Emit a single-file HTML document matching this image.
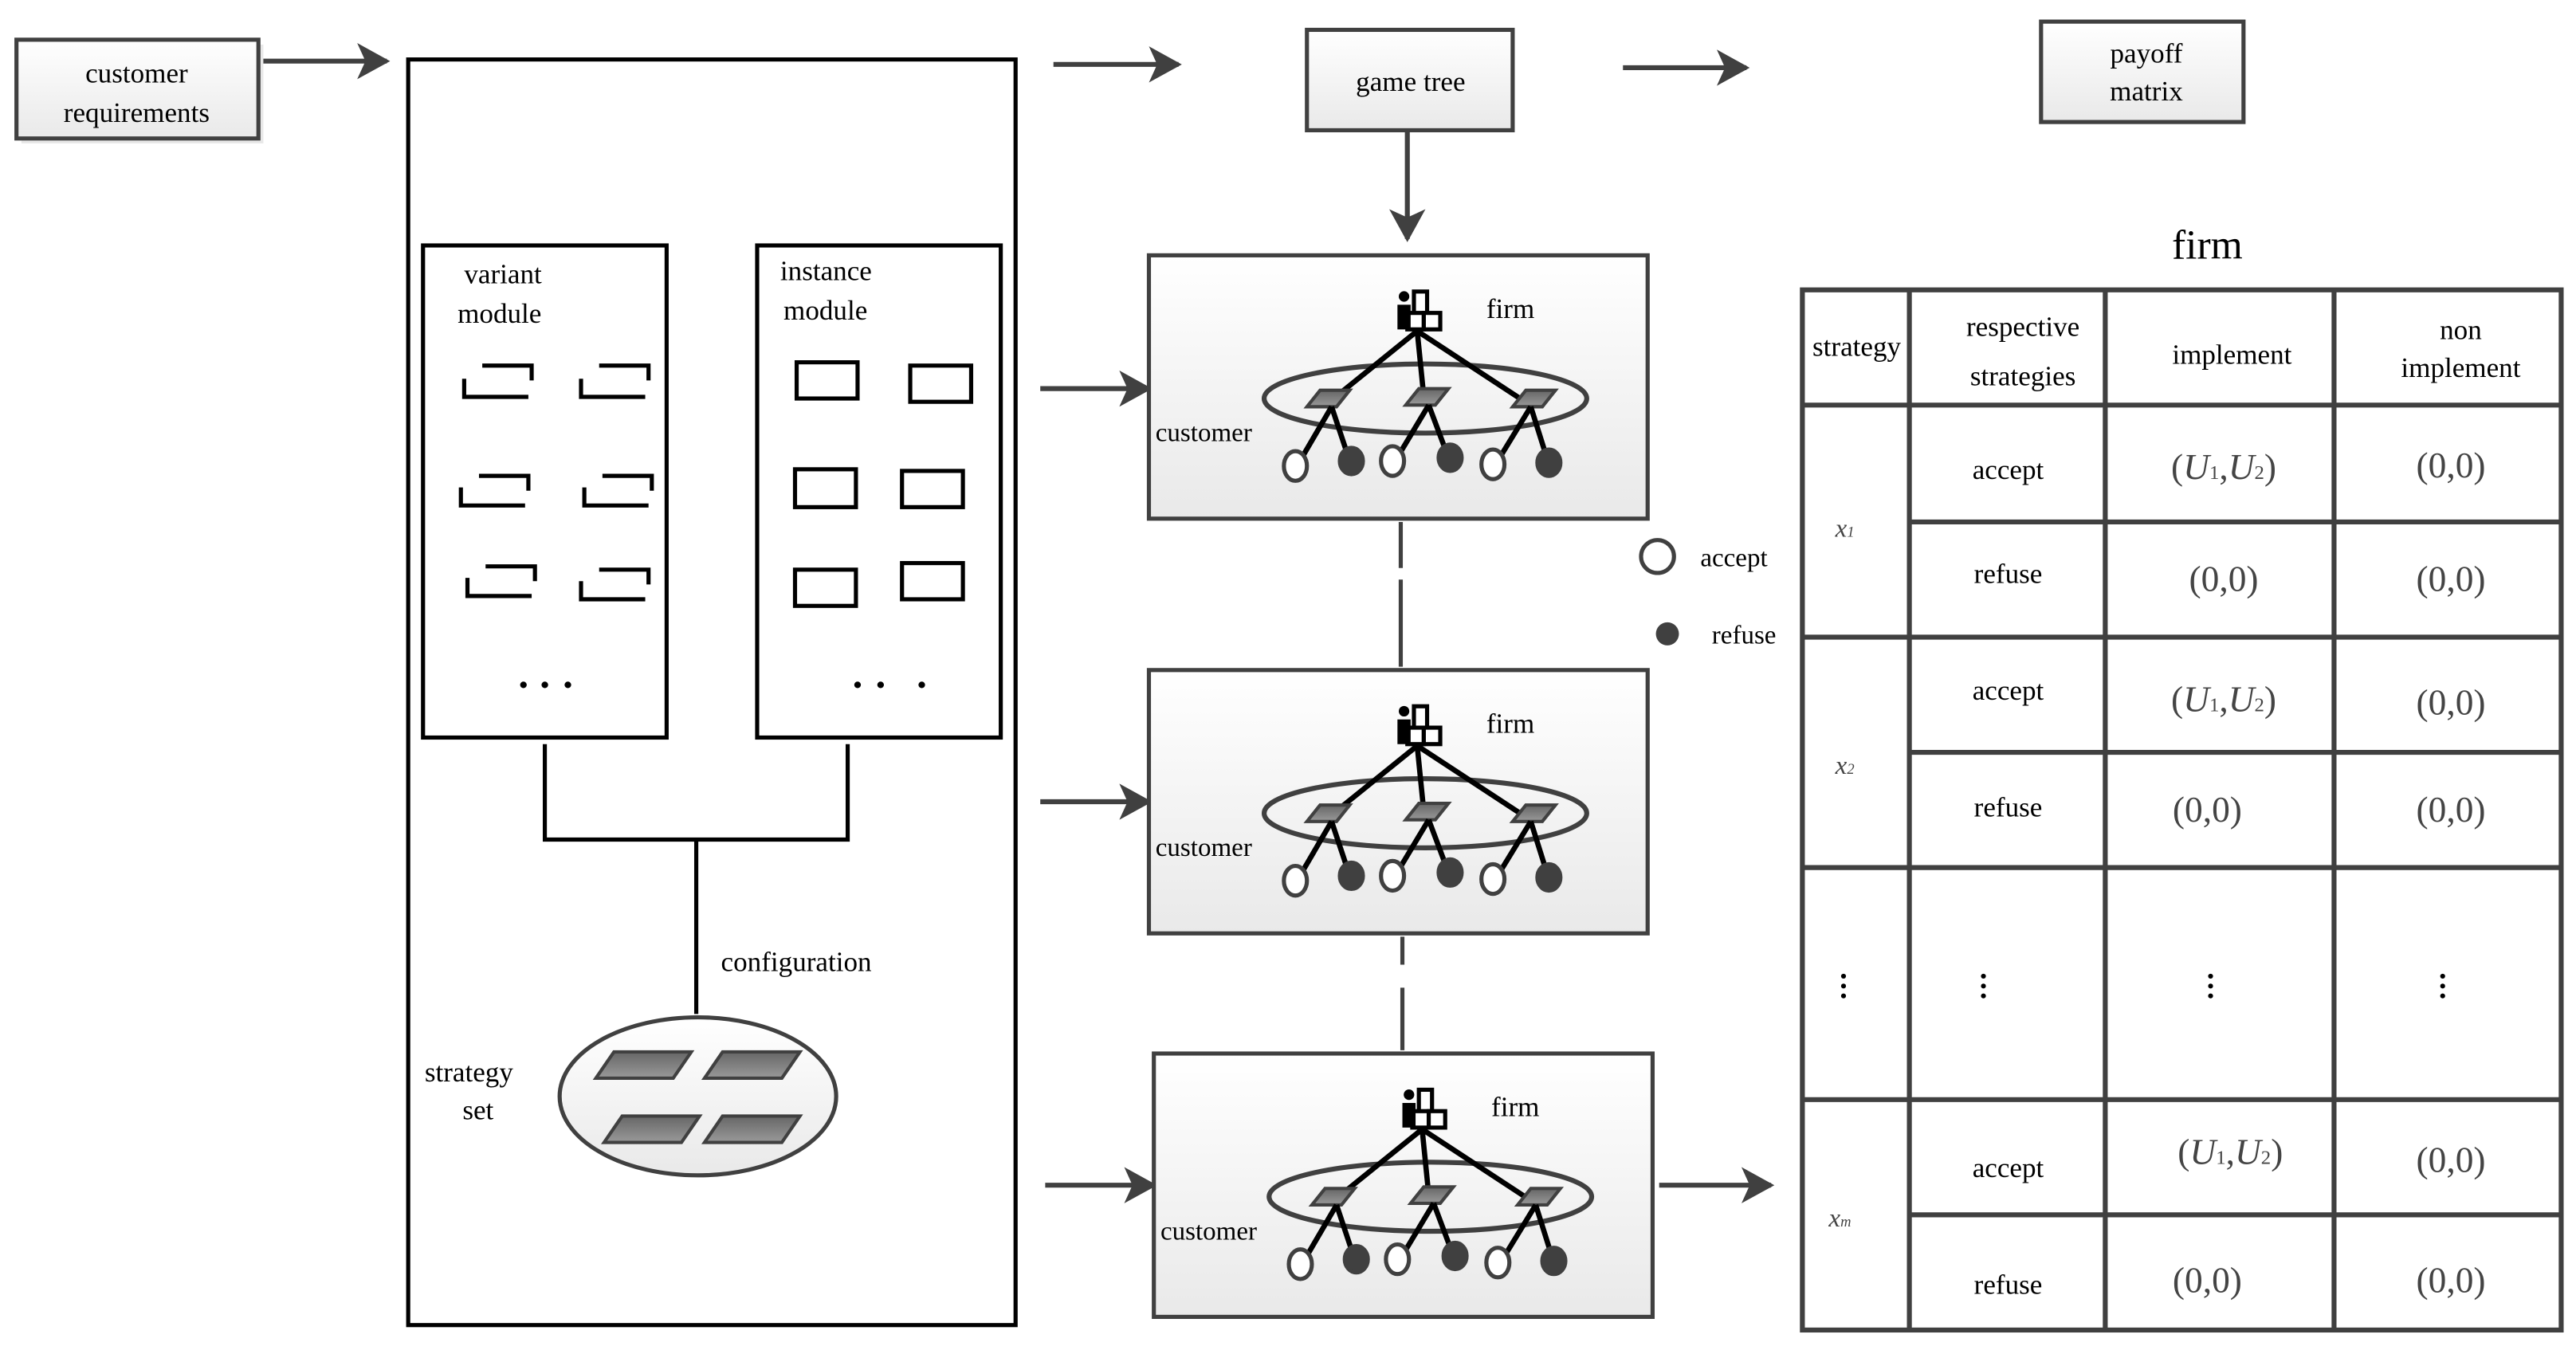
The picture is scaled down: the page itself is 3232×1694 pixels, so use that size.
<!DOCTYPE html>
<html><head><meta charset="utf-8"><style>
html,body{margin:0;padding:0;background:#fff;}
svg{display:block;}
text{font-family:"Liberation Serif",serif;fill:#000;}
</style></head><body>
<svg width="3232" height="1694" viewBox="0 0 1565 820" xmlns="http://www.w3.org/2000/svg" font-family="Liberation Serif, serif">
<defs>
<linearGradient id="gb" x1="0" y1="0" x2="0" y2="1"><stop offset="0" stop-color="#fff"/><stop offset="1" stop-color="#e9e9e9"/></linearGradient>
<linearGradient id="gp" x1="0" y1="0" x2="0" y2="1"><stop offset="0" stop-color="#666"/><stop offset="1" stop-color="#999"/></linearGradient>
<marker id="ah" markerWidth="20" markerHeight="22" refX="18" refY="11" orient="auto" markerUnits="userSpaceOnUse"><path d="M0,0 L20,11 L0,22 L5,11 Z" fill="#404040"/></marker>
<g id="tree">
 <g stroke="#000" stroke-width="2.5" fill="#fff">
  <rect x="161" y="22" width="8" height="14"/>
  <rect x="157" y="35" width="10" height="10"/>
  <rect x="167" y="35" width="10" height="10"/>
 </g>
 <circle cx="155" cy="25" r="3.2" fill="#000"/>
 <path d="M151,30 h8 v15 h-8 z" fill="#000"/>
 <text x="205" y="38" font-size="17">firm</text>
 <ellipse cx="168" cy="87" rx="98" ry="21" fill="none" stroke="#404040" stroke-width="3"/>
 <path d="M163,46 L111,88 M163,46 L167,86 M163,46 L227,88" stroke="#000" stroke-width="3.2"/>
 <g fill="url(#gp)" stroke="#404040" stroke-width="2">
  <path d="M104,82 h18 l-8,10 h-18 z"/><path d="M164,81 h18 l-8,10 h-18 z"/><path d="M229,82 h18 l-8,10 h-18 z"/>
 </g>
 <path d="M111,92 L90,128 M111,92 L122,125 M170,91 L149,126 M170,91 L182,123 M232,92 L210,128 M232,92 L243,127" stroke="#000" stroke-width="3.2"/>
 <g stroke="#404040" stroke-width="2.5">
  <ellipse cx="89" cy="128" rx="7" ry="9" fill="#fff"/><ellipse cx="123" cy="125" rx="7" ry="8" fill="#404040"/>
  <ellipse cx="148" cy="125" rx="7" ry="9" fill="#fff"/><ellipse cx="183" cy="123" rx="7" ry="8" fill="#404040"/>
  <ellipse cx="209" cy="127" rx="7" ry="9" fill="#fff"/><ellipse cx="243" cy="126" rx="7" ry="8" fill="#404040"/>
 </g>
 <text x="4" y="113" font-size="16">customer</text>
</g>
</defs>

<rect x="13" y="27" width="147" height="60" fill="#e8e8e8"/>
<rect x="10" y="24" width="147" height="60" fill="url(#gb)" stroke="#404040" stroke-width="2.5"/>
<text x="83" y="50" font-size="17" text-anchor="middle">customer</text>
<text x="83" y="74" font-size="17" text-anchor="middle">requirements</text>

<g stroke="#404040" stroke-width="3" marker-end="url(#ah)">
 <line x1="160" y1="37" x2="235" y2="37"/>
 <line x1="640" y1="39" x2="716" y2="39"/>
 <line x1="986" y1="41" x2="1061" y2="41"/>
 <line x1="632" y1="236" x2="698" y2="236"/>
 <line x1="632" y1="487" x2="698" y2="487"/>
 <line x1="635" y1="720" x2="701" y2="720"/>
 <line x1="1008" y1="720" x2="1076" y2="720"/>
 <line x1="855" y1="80" x2="855" y2="145"/>
</g>

<rect x="248" y="36" width="369" height="769" fill="none" stroke="#000" stroke-width="2.5"/>
<rect x="257" y="149" width="148" height="299" fill="none" stroke="#000" stroke-width="2.5"/>
<rect x="460" y="149" width="148" height="299" fill="none" stroke="#000" stroke-width="2.5"/>
<text x="282" y="172" font-size="17">variant</text>
<text x="278" y="196" font-size="17">module</text>
<text x="474" y="170" font-size="17">instance</text>
<text x="476" y="194" font-size="17">module</text>
<g fill="none" stroke="#000" stroke-width="2.5">
 <path d="M282,230 v11 h39 M293,222 h30 v9"/>
 <path d="M353,230 v11 h39 M364,222 h30 v9"/>
 <path d="M280,296 v11 h39 M291,289 h30 v9"/>
 <path d="M355,296 v11 h39 M366,289 h30 v9"/>
 <path d="M284,351 v11 h39 M295,344 h30 v9"/>
 <path d="M353,353 v11 h39 M364,346 h30 v9"/>
 <rect x="484" y="220" width="37" height="22"/><rect x="553" y="222" width="37" height="22"/>
 <rect x="483" y="285" width="37" height="23"/><rect x="548" y="286" width="37" height="22"/>
 <rect x="483" y="346" width="37" height="22"/><rect x="548" y="342" width="37" height="22"/>
 <path d="M331,452 V510 H515 V452 M423,510 V616"/>
</g>
<g fill="#000">
 <circle cx="318" cy="416" r="2"/><circle cx="331" cy="416" r="2"/><circle cx="345" cy="416" r="2"/>
 <circle cx="521" cy="416" r="2"/><circle cx="535" cy="416" r="2"/><circle cx="560" cy="416" r="2"/>
</g>
<text x="438" y="590" font-size="17">configuration</text>
<text x="258" y="657" font-size="17">strategy</text>
<text x="281" y="680" font-size="17">set</text>
<ellipse cx="424" cy="666" rx="84" ry="48" fill="url(#gb)" stroke="#404040" stroke-width="2.5"/>
<g fill="url(#gp)" stroke="#404040" stroke-width="2">
 <path d="M373,639 h47 l-11,16 h-47 z"/><path d="M439,639 h47 l-11,16 h-47 z"/>
 <path d="M378,678 h47 l-11,16 h-47 z"/><path d="M439,678 h47 l-11,16 h-47 z"/>
</g>

<rect x="794" y="18" width="125" height="61" fill="url(#gb)" stroke="#404040" stroke-width="2.5"/>
<text x="857" y="55" font-size="17" text-anchor="middle">game tree</text>
<rect x="1240" y="13" width="123" height="61" fill="url(#gb)" stroke="#404040" stroke-width="2.5"/>
<text x="1304" y="38" font-size="17" text-anchor="middle">payoff</text>
<text x="1304" y="61" font-size="17" text-anchor="middle">matrix</text>

<g stroke="#404040" stroke-width="2.5">
 <rect x="698" y="155" width="303" height="160" fill="url(#gb)"/>
 <rect x="698" y="407" width="303" height="160" fill="url(#gb)"/>
 <rect x="701" y="640" width="303" height="160" fill="url(#gb)"/>
</g>
<use href="#tree" x="698" y="155"/>
<use href="#tree" x="698" y="407"/>
<use href="#tree" x="701" y="640"/>
<g stroke="#404040" stroke-width="2.5">
 <path d="M851,317 V345 M851,352 V405 M852,569 V586 M852,600 V638"/>
</g>
<circle cx="1007" cy="338" r="10" fill="#fff" stroke="#404040" stroke-width="2.5"/>
<text x="1033" y="344" font-size="16">accept</text>
<circle cx="1013" cy="385" r="7" fill="#404040"/>
<text x="1040" y="391" font-size="16">refuse</text>

<text x="1341" y="157" font-size="25" text-anchor="middle">firm</text>
<g stroke="#404040" stroke-width="3" fill="none">
 <rect x="1095" y="176" width="461" height="632"/>
 <path d="M1160,176 V808 M1279,176 V808 M1418,176 V808"/>
 <path d="M1095,246 H1556 M1160,317 H1556 M1095,387 H1556 M1160,457 H1556 M1095,527 H1556 M1095,668 H1556 M1160,738 H1556"/>
</g>
<g font-size="17" text-anchor="middle">
 <text x="1128" y="216">strategy</text>
 <text x="1229" y="204">respective</text>
 <text x="1229" y="234">strategies</text>
 <text x="1356" y="221">implement</text>
 <text x="1495" y="206">non</text>
 <text x="1495" y="229">implement</text>
 <text x="1220" y="291">accept</text><text x="1220" y="354">refuse</text>
 <text x="1220" y="425">accept</text><text x="1220" y="496">refuse</text>
 <text x="1220" y="715">accept</text><text x="1220" y="786">refuse</text>
</g>
<g font-size="22" text-anchor="middle" style="fill:#444">
 <text x="1351" y="291" style="fill:#444">(<tspan font-style="italic">U</tspan><tspan font-size="12">1</tspan>,<tspan font-style="italic">U</tspan><tspan font-size="12">2</tspan>)</text>
 <text x="1489" y="290" style="fill:#444">(0,0)</text>
 <text x="1351" y="359" style="fill:#444">(0,0)</text><text x="1489" y="359" style="fill:#444">(0,0)</text>
 <text x="1351" y="432" style="fill:#444">(<tspan font-style="italic">U</tspan><tspan font-size="12">1</tspan>,<tspan font-style="italic">U</tspan><tspan font-size="12">2</tspan>)</text>
 <text x="1489" y="434" style="fill:#444">(0,0)</text>
 <text x="1341" y="499" style="fill:#444">(0,0)</text><text x="1489" y="499" style="fill:#444">(0,0)</text>
 <text x="1355" y="707" style="fill:#444">(<tspan font-style="italic">U</tspan><tspan font-size="12">1</tspan>,<tspan font-style="italic">U</tspan><tspan font-size="12">2</tspan>)</text>
 <text x="1489" y="712" style="fill:#444">(0,0)</text>
 <text x="1341" y="785" style="fill:#444">(0,0)</text><text x="1489" y="785" style="fill:#444">(0,0)</text>
</g>
<g font-size="16" font-style="italic">
 <text x="1115" y="326" style="fill:#444">x<tspan font-size="9">1</tspan></text>
 <text x="1115" y="470" style="fill:#444">x<tspan font-size="9">2</tspan></text>
 <text x="1111" y="745" style="fill:#444">x<tspan font-size="9">m</tspan></text>
</g>
<g fill="#000">
 <circle cx="1120" cy="593" r="1.5"/><circle cx="1120" cy="599" r="1.5"/><circle cx="1120" cy="605" r="1.5"/>
 <circle cx="1205" cy="593" r="1.5"/><circle cx="1205" cy="599" r="1.5"/><circle cx="1205" cy="605" r="1.5"/>
 <circle cx="1343" cy="593" r="1.5"/><circle cx="1343" cy="599" r="1.5"/><circle cx="1343" cy="605" r="1.5"/>
 <circle cx="1484" cy="593" r="1.5"/><circle cx="1484" cy="599" r="1.5"/><circle cx="1484" cy="605" r="1.5"/>
</g>
</svg>
</body></html>
